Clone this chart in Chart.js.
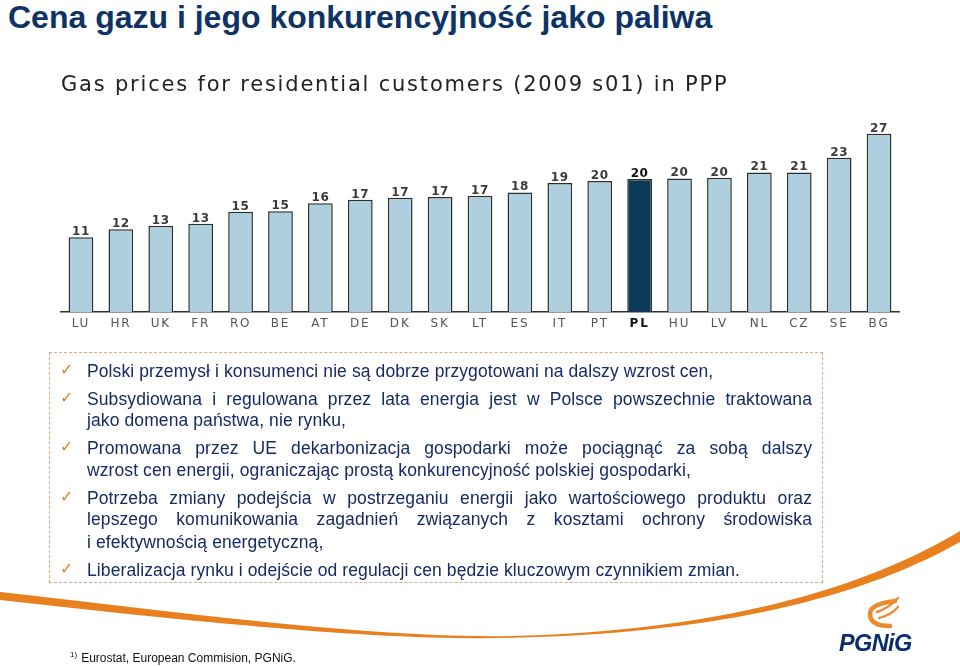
<!DOCTYPE html>
<html>
<head>
<meta charset="utf-8">
<script src="https://cdn.jsdelivr.net/npm/chart.js@4.4.1/dist/chart.umd.min.js"></script>
<style>
  html, body { margin:0; padding:0; background:#fff; }
  body { width:960px; height:666px; position:relative; overflow:hidden; font-family:"Liberation Sans", Arial, sans-serif; }
  #title { position:absolute; left:8px; top:1px; font-size:32px; line-height:32px; font-weight:bold; color:#0e3366; white-space:nowrap; }
  #chartBox { position:absolute; left:52px; top:62px; width:868px; height:280px; }
  #box { position:absolute; left:49px; top:352px; width:774px; height:231px; border:1.5px dashed #e2a77c; box-sizing:border-box; }
  .ln { position:absolute; left:87px; font-size:17.5px; letter-spacing:0.1px; line-height:22px; color:#172a66; white-space:nowrap; }
  .just { width:725px; text-align:justify; text-align-last:justify; white-space:normal; }
  .chk { position:absolute; left:60px; font-family:"DejaVu Sans"; font-size:16px; line-height:22px; color:#e47d22; }
  #foot { position:absolute; left:70px; top:650px; font-size:12px; color:#111; white-space:nowrap; }
  #foot sup { font-size:8px; vertical-align:5px; margin-right:4px; }
  #logo { position:absolute; left:839px; top:630px; font-size:23.5px; font-weight:bold; font-style:italic; color:#0c2e6e; letter-spacing:-0.6px; }
  svg.deco { position:absolute; left:0; top:0; }
</style>
</head>
<body>
<div id="title">Cena gazu i jego konkurencyjność jako paliwa</div>

<div id="chartBox"><canvas id="c"></canvas></div>

<svg class="deco" width="960" height="666" viewBox="0 0 960 666">
  <path d="M0,592 C180,612 380,640 520,635.8 C700,630 850,597 960,531 L960,542 C850,604 700,633 520,637.6 C380,642 180,620 0,600 Z" fill="#e8801f"/>
  <g fill="none" stroke="#ec8a2c" stroke-linecap="round">
    <path d="M895,601 Q869,604 870,615 Q871,626 890,626" stroke-width="4.5"/>
    <path d="M877,612 Q889,608 898,598" stroke-width="2.5"/>
    <path d="M879,618 Q891,615 898,607" stroke-width="2.2"/>
  </g>
</svg>

<div id="box"></div>
<span class="chk" style="top:359px">✓</span>
<div class="ln" style="top:359.5px">Polski przemysł i konsumenci nie są dobrze przygotowani na dalszy wzrost cen,</div>
<span class="chk" style="top:387px">✓</span>
<div class="ln just" style="top:387.5px">Subsydiowana i regulowana przez lata energia jest w Polsce powszechnie traktowana</div>
<div class="ln" style="top:408.5px">jako domena państwa, nie rynku,</div>
<span class="chk" style="top:436px">✓</span>
<div class="ln just" style="top:436.5px">Promowana przez UE dekarbonizacja gospodarki może pociągnąć za sobą dalszy</div>
<div class="ln" style="top:458.5px">wzrost cen energii, ograniczając prostą konkurencyjność polskiej gospodarki,</div>
<span class="chk" style="top:486px">✓</span>
<div class="ln just" style="top:486.5px">Potrzeba zmiany podejścia w postrzeganiu energii jako wartościowego produktu oraz</div>
<div class="ln just" style="top:507.5px">lepszego komunikowania zagadnień związanych z kosztami ochrony środowiska</div>
<div class="ln" style="top:530.5px">i efektywnością energetyczną,</div>
<span class="chk" style="top:558px">✓</span>
<div class="ln" style="top:558.5px">Liberalizacja rynku i odejście od regulacji cen będzie kluczowym czynnikiem zmian.</div>

<div id="foot"><sup>1)</sup>Eurostat, European Commision, PGNiG.</div>
<div id="logo">PGNiG</div>

<script>
const chartTitle = 'Gas prices for residential customers (2009 s01) in PPP';
const categories = ['LU','HR','UK','FR','RO','BE','AT','DE','DK','SK','LT','ES','IT','PT','PL','HU','LV','NL','CZ','SE','BG'];
const prices = [11.2, 12.4, 12.9, 13.2, 15.0, 15.1, 16.3, 16.8, 17.1, 17.2, 17.4, 17.9, 19.3, 19.6, 19.9, 20.0, 20.1, 20.9, 20.9, 23.1, 26.7];
const highlight = 'PL';

const barFill = '#aecfdd';
const barHighlight = '#0b3a58';

const spacingPlugin = {
  id: 'spacing',
  beforeDraw(chart) { chart.ctx.letterSpacing = '1.8px'; },
  afterDraw(chart) { chart.ctx.letterSpacing = '0px'; }
};

const valueLabels = {
  id: 'valueLabels',
  afterDatasetsDraw(chart) {
    const ctx = chart.ctx;
    const meta = chart.getDatasetMeta(0);
    const data = chart.data.datasets[0].data;
    ctx.save();
    ctx.letterSpacing = '0.6px';
    ctx.textAlign = 'center';
    ctx.textBaseline = 'alphabetic';
    meta.data.forEach((bar, i) => {
      const hl = chart.data.labels[i] === highlight;
      ctx.font = (hl ? 'bold ' : '600 ') + '12px "DejaVu Sans"';
      ctx.fillStyle = hl ? '#111111' : '#3a3a3a';
      ctx.fillText(String(Math.round(data[i])), bar.x, bar.y - 2);
    });
    ctx.restore();
  }
};

new Chart(document.getElementById('c'), {
  type: 'bar',
  data: {
    labels: categories,
    datasets: [{
      data: prices,
      backgroundColor: categories.map(c => c === highlight ? barHighlight : barFill),
      borderColor: '#2e2e2e',
      borderWidth: 1.5,
      barPercentage: 0.62,
      categoryPercentage: 1.0
    }]
  },
  options: {
    responsive: true,
    maintainAspectRatio: false,
    animation: false,
    devicePixelRatio: 1,
    layout: { padding: { left: 9, right: 21, top: 0, bottom: 5.6 } },
    plugins: {
      legend: { display: false },
      tooltip: { enabled: false },
      title: {
        display: true,
        text: chartTitle,
        align: 'start',
        color: '#222222',
        font: { family: 'DejaVu Sans', size: 21, weight: 'normal' },
        padding: { top: 11.4, bottom: 19.7 }
      }
    },
    scales: {
      x: {
        grid: { display: false, drawTicks: false },
        border: { display: true, color: '#333333', width: 1.5 },
        ticks: {
          autoSkip: false,
          maxRotation: 0,
          padding: 5,
          font: (ctx) => ({ family: 'DejaVu Sans', size: 12, weight: (categories[ctx.index] === highlight ? 'bold' : 'normal') }),
          color: (ctx) => categories[ctx.index] === highlight ? '#111111' : '#555555'
        }
      },
      y: { display: false, min: 0, max: 29 }
    }
  },
  plugins: [spacingPlugin, valueLabels]
});
</script>
</body>
</html>
